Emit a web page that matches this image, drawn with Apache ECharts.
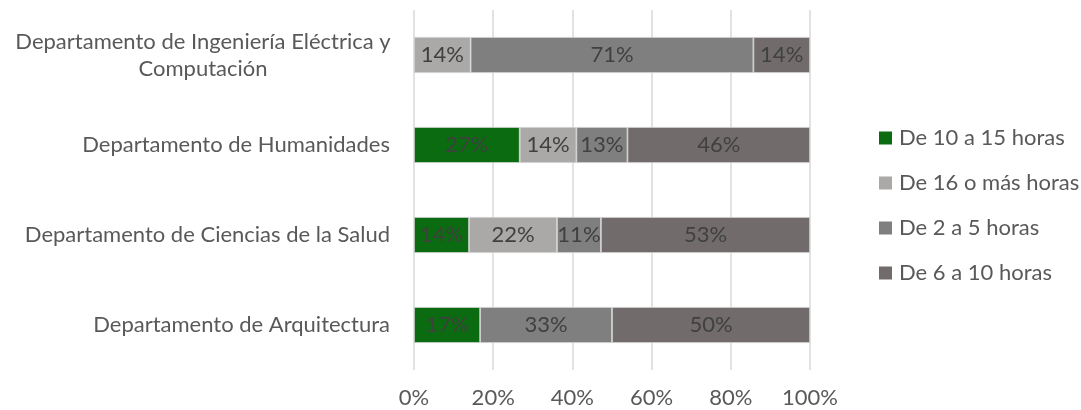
<!DOCTYPE html>
<html><head><meta charset="utf-8">
<script src="https://cdn.jsdelivr.net/npm/echarts@6/dist/echarts.min.js"></script>
<style>html,body{margin:0;padding:0;background:#fff}#c{width:1081px;height:410px}</style>
</head><body><div id="c"></div>
<script>
const categories = ["Departamento de Arquitectura","Departamento de Ciencias de la Salud","Departamento de Humanidades","Departamento de Ingeniería Eléctrica y Computación"];
const seriesNames = ["De 10 a 15 horas","De 16 o más horas","De 2 a 5 horas","De 6 a 10 horas"];
const s10a15 = [16.7, 13.9, 26.7, 0];
const s16mas = [0, 22.2, 14.3, 14.3];
const s2a5 = [33.3, 11.1, 12.9, 71.4];
const s6a10 = [50.0, 52.8, 46.1, 14.3];
const xTicks = ["0%","20%","40%","60%","80%","100%"];
const colors = ["#0b6b10","#aaa9a7","#7f7f7f","#716c6b"];

const FONT = "Lato";
const FS = 22;
const chart = echarts.init(document.getElementById('c'), null, {renderer:'canvas'});
const allData = [s10a15, s16mas, s2a5, s6a10];
chart.setOption({
  animation:false,
  textStyle:{fontFamily:FONT},
  grid:{left:414, right:271, top:10, bottom:40, containLabel:false, outerBoundsMode:'none'},
  legend:{
    orient:'vertical', left:879, top:127, padding:0, itemGap:23, itemWidth:13, itemHeight:13,
    icon:'rect', itemStyle:{borderWidth:0},
    textStyle:{fontFamily:FONT, fontSize:FS, color:'#595959', padding:[0,0,0,2]},
    data:seriesNames
  },
  xAxis:{
    type:'value', min:0, max:100, interval:20,
    axisLine:{show:false}, axisTick:{show:false},
    splitLine:{show:true, lineStyle:{color:'#d9d9d9', width:1.5}},
    axisLabel:{fontFamily:FONT, fontSize:FS, color:'#595959', margin:17,
      formatter:function(v){return xTicks[Math.round(v/20)];}}
  },
  yAxis:{
    type:'category', data:categories,
    axisLine:{show:false}, axisTick:{show:false},
    axisLabel:{fontFamily:FONT, fontSize:FS, color:'#595959', margin:24,
      formatter:function(v){
        if(v.indexOf('Ingeniería')>=0) return '{c|Departamento de Ingeniería Eléctrica y}\n{c|Computación}';
        return v;
      },
      rich:{c:{width:374, align:'center', fontFamily:FONT, fontSize:FS, color:'#595959', lineHeight:27}}
    }
  },
  series: seriesNames.map(function(n,i){
    return {
      name:n, type:'bar', stack:'total', barWidth:36,
      itemStyle:{color:colors[i], borderColor:'#d0d0d0', borderWidth:0.8},
      label:{show:true, position:'inside', fontFamily:FONT, fontSize:FS, color:'#404040',
        formatter:function(p){return p.value>0?Math.round(p.value)+'%':'';}},
      data: allData[i].map(function(v){return v>0?v:null;})
    };
  })
});
</script></body></html>
